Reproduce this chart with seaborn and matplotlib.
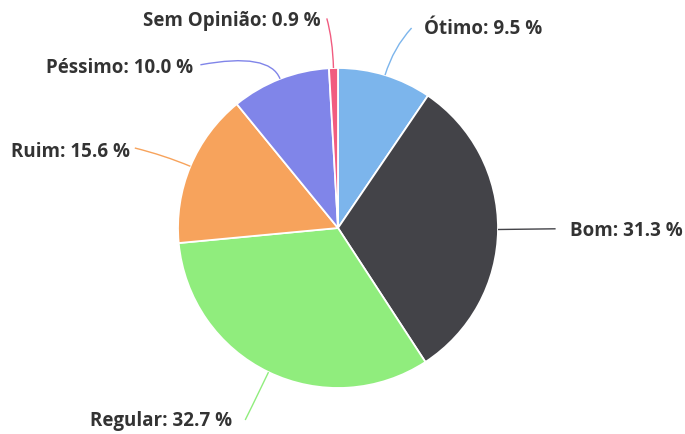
import numpy as np
import matplotlib
matplotlib.use("Agg")
import matplotlib.pyplot as plt
from matplotlib.path import Path
from matplotlib.patches import PathPatch
import seaborn as sns

# ---- data ----
categories = ["Ótimo", "Bom", "Regular", "Ruim", "Péssimo", "Sem Opinião"]
values = [9.5, 31.3, 32.7, 15.6, 10.0, 0.9]
colors = ["#7cb5ec", "#434348", "#90ed7d", "#f7a35c", "#8085e9", "#f15c80"]

# ---- layout (label anchor points in pie-radius units, connector ends) ----
label_pos = [(0.54, 1.245), (1.45, -0.02), (-0.66, -1.205), (-1.3, 0.475), (-0.905, 1.0), (-0.11, 1.295)]
label_ha = ["left", "left", "right", "right", "right", "right"]
conn_end = [(0.46, 1.25), (1.36, -0.005), (-0.58, -1.2), (-1.27, 0.5), (-0.86, 1.02), (-0.07, 1.31)]

sns.set_theme(style="white")
plt.rcParams['font.family'] = ['Open Sans', 'DejaVu Sans']

fig = plt.figure(figsize=(6.85, 4.34), dpi=100)
ax = fig.add_axes([0, 0, 1, 1])
cx, cy, R = 338.0, 228.0, 160.0

wedges, _ = ax.pie(values, colors=colors, startangle=90, counterclock=False,
                   radius=1.0, center=(0, 0), frame=False,
                   wedgeprops=dict(edgecolor="white", linewidth=1.3))
ax.set_xlim(-cx / R, (685 - cx) / R)
ax.set_ylim(-(434 - cy) / R, cy / R)
ax.set_aspect("auto")
ax.axis("off")

total = sum(values)
cum = 0.0
for i, (cat, v) in enumerate(zip(categories, values)):
    mid = 90 - 360 * (cum + v / 2) / total
    cum += v
    a = np.deg2rad(mid)
    p0 = (np.cos(a), np.sin(a))
    ctrl = (1.18 * np.cos(a), 1.18 * np.sin(a))
    p2 = conn_end[i]
    if cat == "Bom":
        ctrl = ((p0[0] + p2[0]) / 2, (p0[1] + p2[1]) / 2)
    if cat == "Regular":
        ctrl = (1.3 * np.cos(a), 1.3 * np.sin(a))
    path = Path([p0, ctrl, p2], [Path.MOVETO, Path.CURVE3, Path.CURVE3])
    ax.add_patch(PathPatch(path, facecolor="none", edgecolor=colors[i], lw=1.0, zorder=1))
    ax.text(label_pos[i][0], label_pos[i][1], f"{cat}: {v:.1f} %", ha=label_ha[i], va="center",
            fontsize=13.5, fontweight="bold", color="#333333")

fig.savefig("out.png", dpi=100, facecolor="white")
